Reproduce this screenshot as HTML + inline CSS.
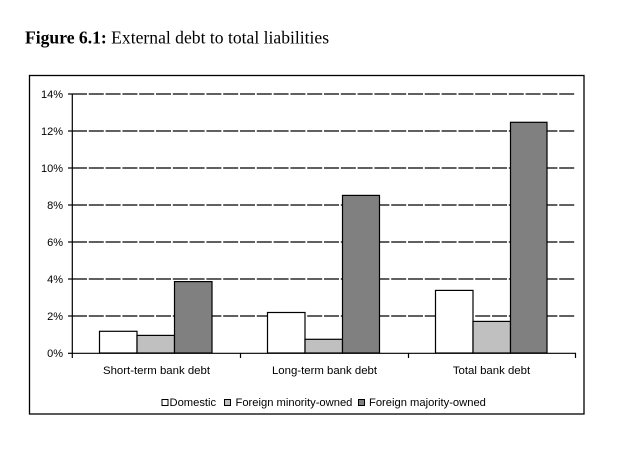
<!DOCTYPE html>
<html><head><meta charset="utf-8"><style>
html,body{margin:0;padding:0;background:#fff;}
body{width:626px;height:448px;overflow:hidden;}
</style></head><body>
<svg width="626" height="448" viewBox="0 0 626 448" xmlns="http://www.w3.org/2000/svg">
<text x="25" y="43.5" font-family="Liberation Serif, serif" font-size="17.6" fill="#000"><tspan font-weight="bold">Figure 6.1:</tspan> External debt to total liabilities</text>
<rect x="29.5" y="75.5" width="554.5" height="338.5" fill="none" stroke="#000" stroke-width="1.3"/>
<g stroke="#000" stroke-width="1.2" stroke-dasharray="15 1.8">
<line x1="72" y1="94" x2="576" y2="94"/>
<line x1="72" y1="131" x2="576" y2="131"/>
<line x1="72" y1="168" x2="576" y2="168"/>
<line x1="72" y1="205" x2="576" y2="205"/>
<line x1="72" y1="242" x2="576" y2="242"/>
<line x1="72" y1="279" x2="576" y2="279"/>
<line x1="72" y1="316" x2="576" y2="316"/>
</g>
<g stroke="#000" stroke-width="1.2">
<rect x="99.5" y="331.3" width="37.5" height="21.7" fill="#fff"/>
<rect x="137" y="335.4" width="37.5" height="17.6" fill="#c0c0c0"/>
<rect x="174.5" y="281.6" width="37.5" height="71.4" fill="#808080"/>
<rect x="267.5" y="312.5" width="37.5" height="40.5" fill="#fff"/>
<rect x="305" y="339.3" width="37.5" height="13.7" fill="#c0c0c0"/>
<rect x="342.5" y="195.4" width="37" height="157.6" fill="#808080"/>
<rect x="435.5" y="290.4" width="37.5" height="62.6" fill="#fff"/>
<rect x="473" y="321.4" width="37.5" height="31.6" fill="#c0c0c0"/>
<rect x="510.5" y="122.3" width="36.5" height="230.7" fill="#808080"/>
</g>
<g stroke="#000" stroke-width="1.2">
<line x1="72.3" y1="94" x2="72.3" y2="353"/>
<line x1="72" y1="353.3" x2="576" y2="353.3"/>
<line x1="68" y1="94" x2="72" y2="94"/>
<line x1="68" y1="131" x2="72" y2="131"/>
<line x1="68" y1="168" x2="72" y2="168"/>
<line x1="68" y1="205" x2="72" y2="205"/>
<line x1="68" y1="242" x2="72" y2="242"/>
<line x1="68" y1="279" x2="72" y2="279"/>
<line x1="68" y1="316" x2="72" y2="316"/>
<line x1="68" y1="353.3" x2="72" y2="353.3"/>
<line x1="72.3" y1="353" x2="72.3" y2="358"/>
<line x1="240.5" y1="353" x2="240.5" y2="358"/>
<line x1="408.5" y1="353" x2="408.5" y2="358"/>
<line x1="575.5" y1="353" x2="575.5" y2="358"/>
</g>
<g font-family="Liberation Sans, sans-serif" font-size="11" fill="#000" text-anchor="end">
<text x="63" y="98">14%</text>
<text x="63" y="135">12%</text>
<text x="63" y="172">10%</text>
<text x="63" y="209">8%</text>
<text x="63" y="246">6%</text>
<text x="63" y="283">4%</text>
<text x="63" y="320">2%</text>
<text x="63" y="357">0%</text>
</g>
<g font-family="Liberation Sans, sans-serif" font-size="11.4" fill="#000" text-anchor="middle">
<text x="156.5" y="374">Short-term bank debt</text>
<text x="324.5" y="374">Long-term bank debt</text>
<text x="491.5" y="374">Total bank debt</text>
</g>
<g stroke="#000" stroke-width="1">
<rect x="162" y="399.5" width="6" height="6" fill="#fff"/>
<rect x="224.5" y="399.5" width="6" height="6" fill="#c0c0c0"/>
<rect x="358.5" y="399.5" width="6" height="6" fill="#808080"/>
</g>
<g font-family="Liberation Sans, sans-serif" font-size="11.2" fill="#000">
<text x="169.5" y="406">Domestic</text>
<text x="235.5" y="406">Foreign minority-owned</text>
<text x="369" y="406">Foreign majority-owned</text>
</g>
</svg>
</body></html>
